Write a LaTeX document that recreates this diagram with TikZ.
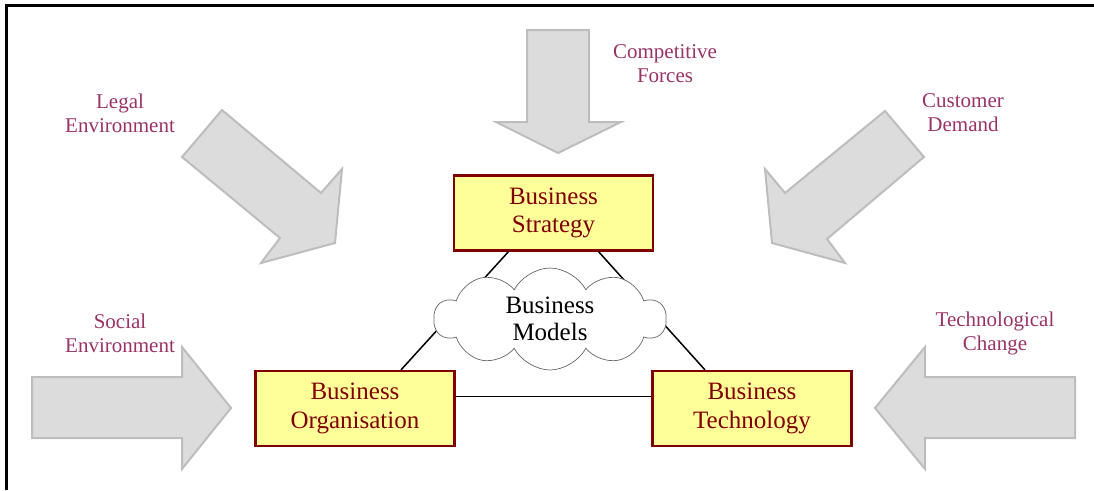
\documentclass[tikz,border=0pt]{standalone}
\usepackage{fontspec}
\setmainfont{Liberation Serif}
\usetikzlibrary{shapes.symbols,calc}
\definecolor{boxfill}{HTML}{FFFF99}
\definecolor{boxline}{HTML}{800000}
\definecolor{lbl}{HTML}{993366}
\definecolor{arrfill}{HTML}{DCDCDC}
\definecolor{arrline}{HTML}{BDBDBD}
\tikzset{
  bizbox/.style={draw=boxline, line width=2.2pt, fill=boxfill, text=boxline,
    minimum width=199pt, minimum height=75pt, inner sep=0pt, align=center,
    font=\fontsize{25}{28.5}\selectfont},
  forcelbl/.style={text=lbl, align=center, inner sep=0pt, font=\fontsize{21}{24}\selectfont},
  bigarrow/.style={draw=arrline, fill=arrfill, line width=2pt, line join=miter},
  tie/.style={draw=black, line width=1.5pt},
  cloudnode/.style={cloud, cloud puffs=10, cloud puff arc=125, aspect=2.3,
    draw=gray!80!black, line width=0.7pt, fill=white, minimum width=232pt,
    minimum height=102pt, inner sep=0pt, align=center, font=\fontsize{25}{27}\selectfont}
}
\begin{document}
\begin{tikzpicture}[x=1pt,y=-1pt]
\useasboundingbox (0,0) rectangle (1094,490);
% frame
\draw[line width=3pt] (6,490) -- (6,5) -- (1094,5);
% arrows
\path[bigarrow] (527,30) -- (589,30) -- (589,122) -- (621,122) -- (558,153) -- (496,122) -- (527,122) -- cycle;
\path[bigarrow] (222,110) -- (321,193) -- (342,169) -- (335,243) -- (261,263) -- (280,238) -- (182,157) -- cycle;
\path[bigarrow] (885,111) -- (924,157) -- (827,239) -- (845,263) -- (772,243) -- (765,169) -- (785,193) -- cycle;
\path[bigarrow] (32,377) -- (182,377) -- (182,347) -- (231,408) -- (182,469) -- (182,438) -- (32,438) -- cycle;
\path[bigarrow] (1075,377) -- (925,377) -- (925,347) -- (875,408) -- (925,469) -- (925,438) -- (1075,438) -- cycle;
% labels
\node[forcelbl] (lcomp) at (665,64) {Competitive\\Forces};
\node[forcelbl] (llegal) at (120,113) {Legal\\Environment};
\node[forcelbl] (lcust) at (963,113) {Customer\\Demand};
\node[forcelbl] (lsoc) at (120,333) {Social\\Environment};
\node[forcelbl] (ltech) at (995,333) {Technological\\Change};
% boxes
\node[bizbox] (S) at (553.5,213) {Business\\Strategy};
\node[bizbox] (O) at (355,408.5) {Business\\Organisation};
\node[bizbox] (T) at (752,408.5) {Business\\Technology};
% ties
\draw[tie] ([xshift=-45pt]S.south) -- ([xshift=46pt]O.north);
\draw[tie] ([xshift=45pt]S.south) -- ([xshift=-47pt]T.north);
\draw[tie] ([yshift=12pt]O.east) -- ([yshift=12pt]T.west);
% cloud
\node[cloudnode] (M) at (550,319) {Business\\Models};
\end{tikzpicture}
\end{document}
